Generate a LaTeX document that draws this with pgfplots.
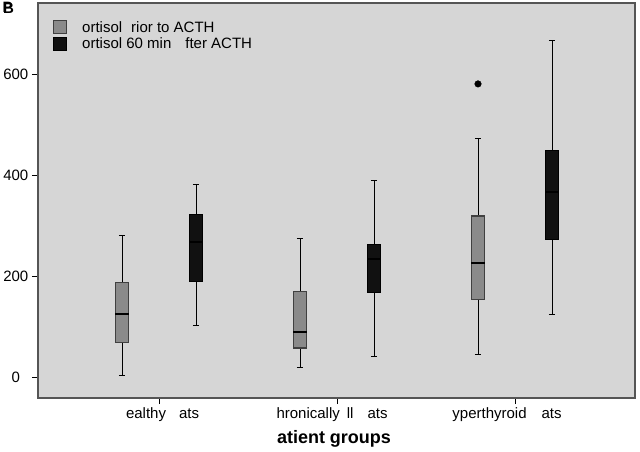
\documentclass[border=0pt]{standalone}
\usepackage{pgfplots}
\pgfplotsset{compat=1.18}
\usepackage{fontspec}
\setmainfont{Liberation Sans}
\definecolor{bg}{HTML}{D6D6D6}
\definecolor{boxg}{HTML}{8A8A8A}
\definecolor{boxk}{HTML}{111111}
\definecolor{frm}{HTML}{555555}
\begin{document}
\begin{tikzpicture}
\path (0pt,0pt) rectangle (640pt,451pt);
\node[font=\bfseries\fontsize{15}{15}\selectfont, anchor=north west, inner sep=0] at (2.5pt,449pt) {P};
\node[font=\bfseries\fontsize{15}{15}\selectfont, anchor=north west, inner sep=0] at (3pt,448pt) {B};
\begin{axis}[
  at={(38pt,53pt)}, anchor=south west,
  scale only axis, width=597pt, height=395pt,
  xmin=0.32, xmax=3.674, ymin=-40, ymax=741,
  axis background/.style={fill=bg},
  axis line style={draw=frm, line width=1.5pt},
  tick style={black, line width=0.9pt},
  tick align=outside, tick pos=left, major tick length=6pt,
  xtick={1,2,3}, ytick={0,200,400,600},
  xticklabels={\hspace*{7pt}ealthy\hspace{13pt}ats,
               hronically\hspace{7pt}ll\hspace{14pt}ats\hspace*{10pt},
               yperthyroid\hspace{15pt}ats\hspace*{16pt}},
  ticklabel style={font=\fontsize{15}{18}\selectfont},
  /pgf/number format/assume math mode=true,
  yticklabel style={text width=26pt, align=center, inner sep=0pt, xshift=-3pt},
  xlabel={atient groups\hspace*{5pt}},
  xlabel style={font=\bfseries\fontsize{18}{20}\selectfont, at={(axis description cs:0.5,0)}, anchor=base, yshift=-45pt},
  legend style={draw=none, fill=none, at={(0,1)}, anchor=north west, xshift=13pt, yshift=-14pt,
     font=\fontsize{15}{17}\selectfont, row sep=0pt, inner sep=2pt},
  legend cell align=left,
  legend image code/.code={\draw[#1, line width=1pt] (0pt,-6.5pt) rectangle (13pt,6.5pt);},
  unbounded coords=jump,
]
\addlegendimage{fill=boxg, draw=black!75}
\addlegendentry{\hspace*{13pt}ortisol\hspace{9pt}rior to ACTH}
\addlegendimage{fill=boxk, draw=black}
\addlegendentry{\hspace*{13pt}ortisol 60 min\hspace{14pt}fter ACTH}
% whiskers and caps (lower whisker, upper whisker)
\addplot[black, line width=1pt, forget plot] coordinates {
 (0.792,4) (0.792,282) (0.792,nan)
 (0.7745,4) (0.8095,4) (0.8095,nan)
 (0.7745,282) (0.8095,282) (0.8095,nan)
 (1.208,103) (1.208,382) (1.208,nan)
 (1.1905,103) (1.2255,103) (1.2255,nan)
 (1.1905,382) (1.2255,382) (1.2255,nan)
 (1.792,21) (1.792,275) (1.792,nan)
 (1.7745,21) (1.8095,21) (1.8095,nan)
 (1.7745,275) (1.8095,275) (1.8095,nan)
 (2.208,43) (2.208,391) (2.208,nan)
 (2.1905,43) (2.2255,43) (2.2255,nan)
 (2.1905,391) (2.2255,391) (2.2255,nan)
 (2.792,47) (2.792,473) (2.792,nan)
 (2.7745,47) (2.8095,47) (2.8095,nan)
 (2.7745,473) (2.8095,473) (2.8095,nan)
 (3.208,126) (3.208,666) (3.208,nan)
 (3.1905,126) (3.2255,126) (3.2255,nan)
 (3.1905,666) (3.2255,666)
};
% boxes (lower quartile, upper quartile)
\addplot[fill=boxg, draw=black!75, line width=1.2pt, forget plot] coordinates {(0.7545,69) (0.8295,69) (0.8295,188) (0.7545,188)} -- cycle;
\addplot[fill=boxk, draw=black, line width=1.2pt, forget plot] coordinates {(1.1705,190) (1.2455,190) (1.2455,323) (1.1705,323)} -- cycle;
\addplot[fill=boxg, draw=black!75, line width=1.2pt, forget plot] coordinates {(1.7545,59) (1.8295,59) (1.8295,170) (1.7545,170)} -- cycle;
\addplot[fill=boxk, draw=black, line width=1.2pt, forget plot] coordinates {(2.1705,169) (2.2455,169) (2.2455,264) (2.1705,264)} -- cycle;
\addplot[fill=boxg, draw=black!75, line width=1.2pt, forget plot] coordinates {(2.7545,154) (2.8295,154) (2.8295,320) (2.7545,320)} -- cycle;
\addplot[fill=boxk, draw=black, line width=1.2pt, forget plot] coordinates {(3.1705,273) (3.2455,273) (3.2455,450) (3.1705,450)} -- cycle;
% medians
\addplot[black, line width=2pt, forget plot] coordinates {
 (0.7545,126) (0.8295,126) (0.8295,nan)
 (1.1705,269) (1.2455,269) (1.2455,nan)
 (1.7545,91) (1.8295,91) (1.8295,nan)
 (2.1705,234) (2.2455,234) (2.2455,nan)
 (2.7545,226) (2.8295,226) (2.8295,nan)
 (3.1705,367) (3.2455,367)
};
% outlier
\addplot[only marks, mark=*, mark size=3.3pt, black, forget plot] coordinates {(2.792,581)};
\end{axis}
\end{tikzpicture}
\end{document}
